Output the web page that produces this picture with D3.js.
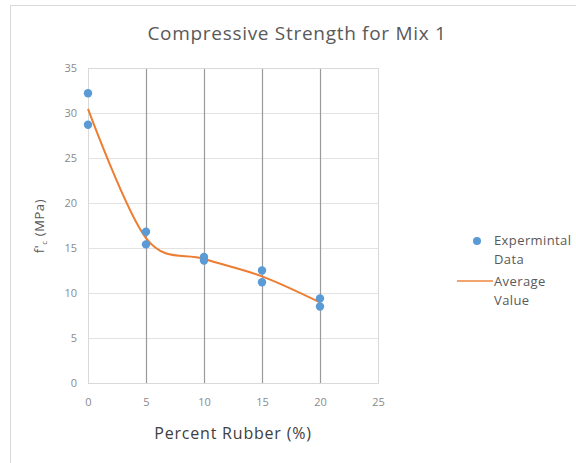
<!DOCTYPE html>
<html>
<head>
<meta charset="utf-8">
<script src="https://cdn.jsdelivr.net/npm/d3@7"></script>
<style>
  html, body { margin: 0; padding: 0; background: #fff; }
  svg { display: block; font-family: "Open Sans", "Liberation Sans", sans-serif; }
</style>
</head>
<body>
<svg id="chart" width="576" height="463"></svg>
<script>
// Rubber content (%) of each specimen and its measured strength (MPa)
const sampleRubber   = [0, 0, 5, 5, 10, 10, 15, 15, 20, 20];
const sampleStrength = [32.2, 28.7, 16.8, 15.4, 14.0, 13.6, 12.5, 11.2, 9.4, 8.5];

// Mean strength at each rubber content
const avgRubber   = [0, 5, 10, 15, 20];
const avgStrength = [30.45, 16.1, 13.8, 11.85, 8.95];

const xTicks = [0, 5, 10, 15, 20, 25];
const yTicks = [0, 5, 10, 15, 20, 25, 30, 35];

const svg = d3.select("#chart");

// Chart frame
svg.append("rect")
  .attr("x", 10.5).attr("y", 5.5)
  .attr("width", 600).attr("height", 500)
  .attr("fill", "#fff").attr("stroke", "#d9d9d9");

const plot = { left: 88, right: 378, top: 68, bottom: 383 };

const x = d3.scaleLinear().domain([0, 25]).range([plot.left, plot.right]);
const y = d3.scaleLinear().domain([0, 35]).range([plot.bottom, plot.top]);

// Horizontal gridlines
svg.append("g")
  .selectAll("line").data(yTicks).join("line")
  .attr("x1", plot.left).attr("x2", plot.right)
  .attr("y1", d => Math.round(y(d)) + 0.5).attr("y2", d => Math.round(y(d)) + 0.5)
  .attr("stroke", "#e3e3e3").attr("stroke-width", 1);

// Vertical gridlines
svg.append("g")
  .selectAll("line").data(xTicks.filter(d => d > 0 && d < 25)).join("line")
  .attr("x1", d => Math.round(x(d)) + 0.5).attr("x2", d => Math.round(x(d)) + 0.5)
  .attr("y1", plot.top).attr("y2", plot.bottom)
  .attr("stroke", "#9a9a9a").attr("stroke-width", 1.2);

// Plot area border
svg.append("rect")
  .attr("x", plot.left + 0.5).attr("y", plot.top + 0.5)
  .attr("width", plot.right - plot.left).attr("height", plot.bottom - plot.top)
  .attr("fill", "none").attr("stroke", "#d9d9d9");

// Axes (labels only, lines come from the grid)
const xAxis = svg.append("g")
  .attr("transform", `translate(0,${plot.bottom})`)
  .call(d3.axisBottom(x).tickValues(xTicks).tickSize(0).tickPadding(15));
const yAxis = svg.append("g")
  .attr("transform", `translate(${plot.left},0)`)
  .call(d3.axisLeft(y).tickValues(yTicks).tickSize(0).tickPadding(11));
[xAxis, yAxis].forEach(g => {
  g.select(".domain").remove();
  g.selectAll("text")
    .attr("fill", "#8a8a8a")
    .style("font-size", "11px")
    .style("font-family", "\"Open Sans\", sans-serif");
});

// Smoothed average line
const line = d3.line()
  .x(d => x(d[0])).y(d => y(d[1]))
  .curve(d3.curveCardinal.tension(0));
svg.append("path")
  .datum(d3.zip(avgRubber, avgStrength))
  .attr("d", line)
  .attr("fill", "none")
  .attr("stroke", "#ed7d31")
  .attr("stroke-width", 2);

// Specimen points
svg.append("g")
  .selectAll("circle").data(d3.zip(sampleRubber, sampleStrength)).join("circle")
  .attr("cx", d => x(d[0])).attr("cy", d => y(d[1]))
  .attr("r", 4.2)
  .attr("fill", "#5b9bd5");

// Title
svg.append("text")
  .attr("x", 297).attr("y", 40)
  .attr("text-anchor", "middle")
  .attr("fill", "#595959")
  .style("font-size", "19px")
  .style("letter-spacing", "0.7px")
  .text("Compressive Strength for Mix 1");

// X axis title
svg.append("text")
  .attr("x", 233).attr("y", 439)
  .attr("text-anchor", "middle")
  .attr("fill", "#404040")
  .style("font-size", "16px")
  .style("letter-spacing", "0.8px")
  .text("Percent Rubber (%)");

// Y axis title
const yt = svg.append("text")
  .attr("transform", "translate(44,226) rotate(-90)")
  .attr("text-anchor", "middle")
  .attr("fill", "#595959")
  .style("font-size", "13px")
  .style("letter-spacing", "0.6px");
yt.append("tspan").text("f'");
yt.append("tspan").attr("dy", 3).style("font-size", "8px").text("c");
yt.append("tspan").attr("dy", -3).text(" (MPa)");

// Legend
const legend = svg.append("g").attr("fill", "#595959")
  .style("font-size", "13px").style("letter-spacing", "0.4px");
legend.append("circle").attr("cx", 477).attr("cy", 241).attr("r", 4).attr("fill", "#5b9bd5");
legend.append("text").attr("x", 494).attr("y", 245).text("Expermintal");
legend.append("text").attr("x", 494).attr("y", 264).text("Data");
legend.append("line")
  .attr("x1", 457).attr("x2", 493).attr("y1", 281).attr("y2", 281)
  .attr("stroke", "#ed7d31").attr("stroke-width", 2).attr("stroke-opacity", 0.7);
legend.append("text").attr("x", 494).attr("y", 286).text("Average");
legend.append("text").attr("x", 494).attr("y", 305).text("Value");
</script>
</body>
</html>
